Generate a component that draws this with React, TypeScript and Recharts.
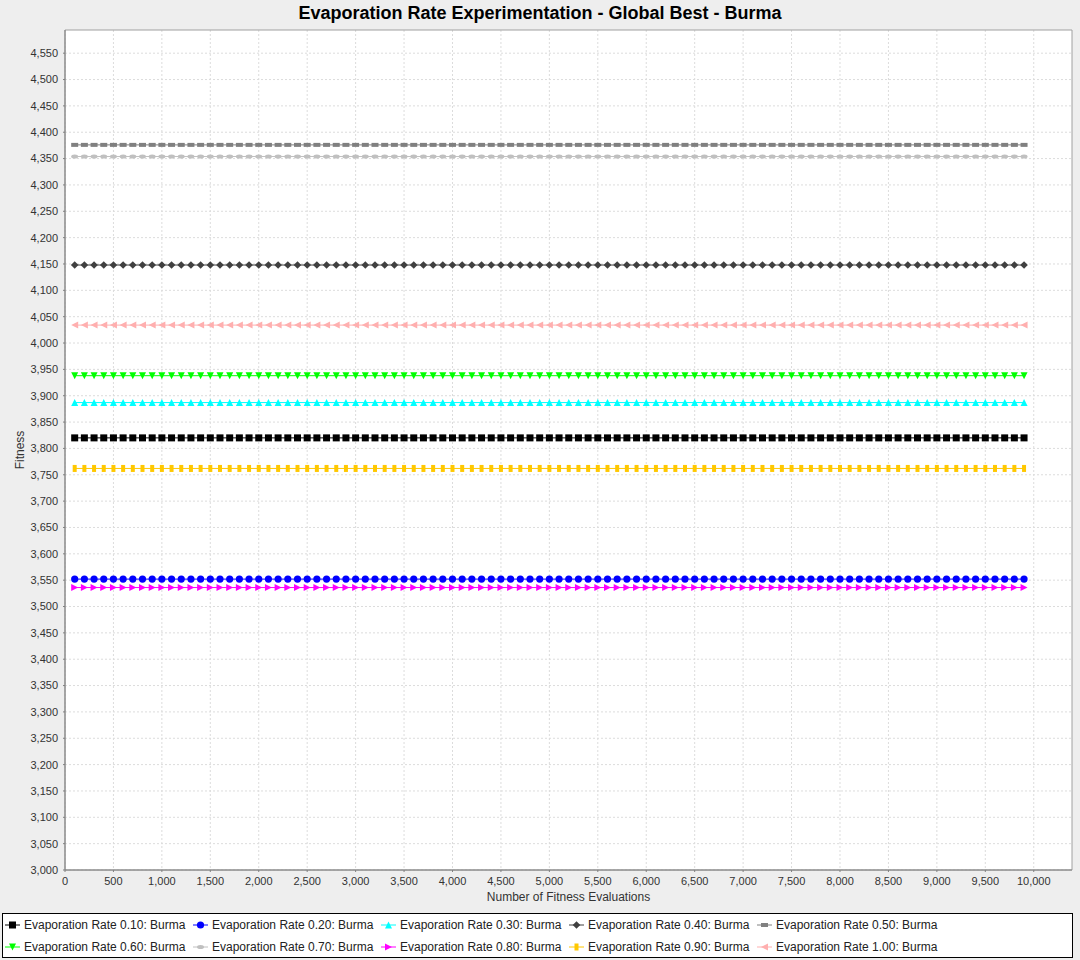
import React from 'react';
import { LineChart, Line, XAxis, YAxis, CartesianGrid, ReferenceArea } from 'recharts';

const evaluations = [
  100, 200, 300, 400, 500, 600, 700, 800, 900, 1000,
  1100, 1200, 1300, 1400, 1500, 1600, 1700, 1800, 1900, 2000,
  2100, 2200, 2300, 2400, 2500, 2600, 2700, 2800, 2900, 3000,
  3100, 3200, 3300, 3400, 3500, 3600, 3700, 3800, 3900, 4000,
  4100, 4200, 4300, 4400, 4500, 4600, 4700, 4800, 4900, 5000,
  5100, 5200, 5300, 5400, 5500, 5600, 5700, 5800, 5900, 6000,
  6100, 6200, 6300, 6400, 6500, 6600, 6700, 6800, 6900, 7000,
  7100, 7200, 7300, 7400, 7500, 7600, 7700, 7800, 7900, 8000,
  8100, 8200, 8300, 8400, 8500, 8600, 8700, 8800, 8900, 9000,
  9100, 9200, 9300, 9400, 9500, 9600, 9700, 9800, 9900,
];

const seriesNames = [
  'Evaporation Rate 0.10: Burma',
  'Evaporation Rate 0.20: Burma',
  'Evaporation Rate 0.30: Burma',
  'Evaporation Rate 0.40: Burma',
  'Evaporation Rate 0.50: Burma',
  'Evaporation Rate 0.60: Burma',
  'Evaporation Rate 0.70: Burma',
  'Evaporation Rate 0.80: Burma',
  'Evaporation Rate 0.90: Burma',
  'Evaporation Rate 1.00: Burma',
];

// best fitness per series (flat over all evaluations)
const seriesLevels = [3820, 3552, 3887, 4148, 4376, 3938, 4354, 3536, 3762, 4034];

const seriesColors = [
  '#000000', '#0000ff', '#00ffff', '#404040', '#808080',
  '#00ff00', '#c0c0c0', '#ff00ff', '#ffc800', '#ffafaf',
];

const seriesShapes = [
  'square', 'circle', 'triUp', 'diamond', 'hrect',
  'triDown', 'hellipse', 'triRight', 'vrect', 'triLeft',
];

const xTicks = [0, 500, 1000, 1500, 2000, 2500, 3000, 3500, 4000, 4500, 5000,
  5500, 6000, 6500, 7000, 7500, 8000, 8500, 9000, 9500, 10000];

const yTicks = [3000, 3050, 3100, 3150, 3200, 3250, 3300, 3350, 3400, 3450, 3500,
  3550, 3600, 3650, 3700, 3750, 3800, 3850, 3900, 3950, 4000, 4050, 4100, 4150,
  4200, 4250, 4300, 4350, 4400, 4450, 4500, 4550];

const xDomain: [number, number] = [0, 10395];
const yDomain: [number, number] = [3000, 4594];

const data = evaluations.map((x) => {
  const row: Record<string, number> = { x };
  seriesLevels.forEach((v, i) => {
    row['s' + i] = v;
  });
  return row;
});

const FONT = '"Liberation Sans", Arial, Helvetica, sans-serif';

function Marker({ shape, cx, cy, color }: { shape: string; cx: number; cy: number; color: string }) {
  const h = 3.5;
  switch (shape) {
    case 'square':
      return <rect x={cx - h} y={cy - h} width={2 * h} height={2 * h} fill={color} />;
    case 'circle':
      return <circle cx={cx} cy={cy} r={3.6} fill={color} />;
    case 'triUp':
      return <polygon points={`${cx},${cy - h} ${cx + h},${cy + h} ${cx - h},${cy + h}`} fill={color} />;
    case 'diamond':
      return <polygon points={`${cx},${cy - 3.8} ${cx + 3.8},${cy} ${cx},${cy + 3.8} ${cx - 3.8},${cy}`} fill={color} />;
    case 'hrect':
      return <rect x={cx - h} y={cy - 2} width={2 * h} height={4} fill={color} />;
    case 'triDown':
      return <polygon points={`${cx - h},${cy - h} ${cx + h},${cy - h} ${cx},${cy + h}`} fill={color} />;
    case 'hellipse':
      return <ellipse cx={cx} cy={cy} rx={h} ry={2} fill={color} />;
    case 'triRight':
      return <polygon points={`${cx - h},${cy - h} ${cx + h},${cy} ${cx - h},${cy + h}`} fill={color} />;
    case 'vrect':
      return <rect x={cx - 2} y={cy - h} width={4} height={2 * h} fill={color} />;
    case 'triLeft':
      return <polygon points={`${cx + h},${cy - h} ${cx - h},${cy} ${cx + h},${cy + h}`} fill={color} />;
    default:
      return null;
  }
}

function makeDot(i: number) {
  return (props: any) => {
    const { cx, cy, index } = props;
    if (cx == null || cy == null) return <g key={`d${i}-${index}`} />;
    return (
      <g key={`d${i}-${index}`}>
        <Marker shape={seriesShapes[i]} cx={cx} cy={cy} color={seriesColors[i]} />
      </g>
    );
  };
}

export default function App() {
  return (
    <div
      style={{
        position: 'absolute',
        left: 0,
        top: 0,
        width: 1080,
        height: 960,
        background: '#eeeeee',
        fontFamily: FONT,
        overflow: 'hidden',
      }}
    >
      <div
        style={{
          position: 'absolute',
          left: 0,
          top: 2,
          width: 1080,
          textAlign: 'center',
          fontSize: 18,
          fontWeight: 'bold',
          color: '#000',
          lineHeight: '22px',
        }}
      >
        Evaporation Rate Experimentation - Global Best - Burma
      </div>

      <div style={{ position: 'absolute', left: 0, top: 0 }}>
        <LineChart
          width={1080}
          height={905}
          data={data}
          margin={{ top: 30, right: 8, bottom: 0, left: 0 }}
        >
          <CartesianGrid
            fill="#ffffff"
            stroke="#dcdcdc"
            strokeDasharray="2 2"
            horizontalValues={yTicks}
            verticalValues={xTicks}
          />
          <XAxis
            dataKey="x"
            type="number"
            domain={xDomain}
            ticks={xTicks}
            interval={0}
            allowDataOverflow
            height={35}
            tickSize={2}
            tickMargin={5}
            stroke="#808080"
            tick={{ fill: '#333333', fontSize: 11, fontFamily: FONT }}
            tickFormatter={(v: number) => v.toLocaleString('en-US')}
          />
          <YAxis
            type="number"
            domain={yDomain}
            ticks={yTicks}
            interval={0}
            allowDataOverflow
            width={65}
            tickSize={2}
            tickMargin={5}
            stroke="#808080"
            tick={{ fill: '#333333', fontSize: 11, fontFamily: FONT }}
            tickFormatter={(v: number) => v.toLocaleString('en-US')}
          />
          <ReferenceArea
            x1={xDomain[0]}
            x2={xDomain[1]}
            y1={yDomain[0]}
            y2={yDomain[1]}
            fill="none"
            fillOpacity={0}
            stroke="#a0a0a0"
            strokeWidth={1}
            ifOverflow="visible"
          />
          {seriesNames.map((name, i) => (
            <Line
              key={name}
              type="linear"
              dataKey={'s' + i}
              name={name}
              stroke={seriesColors[i]}
              strokeWidth={1}
              dot={makeDot(i)}
              activeDot={false}
              isAnimationActive={false}
            />
          ))}
        </LineChart>
      </div>

      <div
        style={{
          position: 'absolute',
          left: 20 - 40,
          top: 450 - 8,
          width: 80,
          height: 16,
          lineHeight: '16px',
          textAlign: 'center',
          fontSize: 12,
          color: '#333333',
          transform: 'rotate(-90deg)',
        }}
      >
        Fitness
      </div>
      <div
        style={{
          position: 'absolute',
          left: 65,
          top: 889,
          width: 1007,
          height: 16,
          lineHeight: '16px',
          textAlign: 'center',
          fontSize: 12,
          color: '#333333',
        }}
      >
        Number of Fitness Evaluations
      </div>

      <div
        style={{
          position: 'absolute',
          left: 2,
          top: 913,
          width: 1069,
          height: 43,
          border: '1px solid #000',
          background: '#ffffff',
        }}
      >
        {seriesNames.map((name, i) => {
          const col = i % 5;
          const row = Math.floor(i / 5);
          const centerY = row === 0 ? 11 : 32.5;
          return (
            <div
              key={name}
              style={{
                position: 'absolute',
                left: 2 + col * 188,
                top: centerY - 8,
                height: 16,
                display: 'flex',
                alignItems: 'center',
                whiteSpace: 'nowrap',
              }}
            >
              <svg width={16} height={16} style={{ display: 'block' }}>
                <line x1={0} y1={8} x2={15} y2={8} stroke={seriesColors[i]} strokeWidth={1} />
                <Marker shape={seriesShapes[i]} cx={7.5} cy={8} color={seriesColors[i]} />
              </svg>
              <span style={{ marginLeft: 3, fontSize: 12, color: '#222', lineHeight: '16px' }}>{name}</span>
            </div>
          );
        })}
      </div>
    </div>
  );
}
